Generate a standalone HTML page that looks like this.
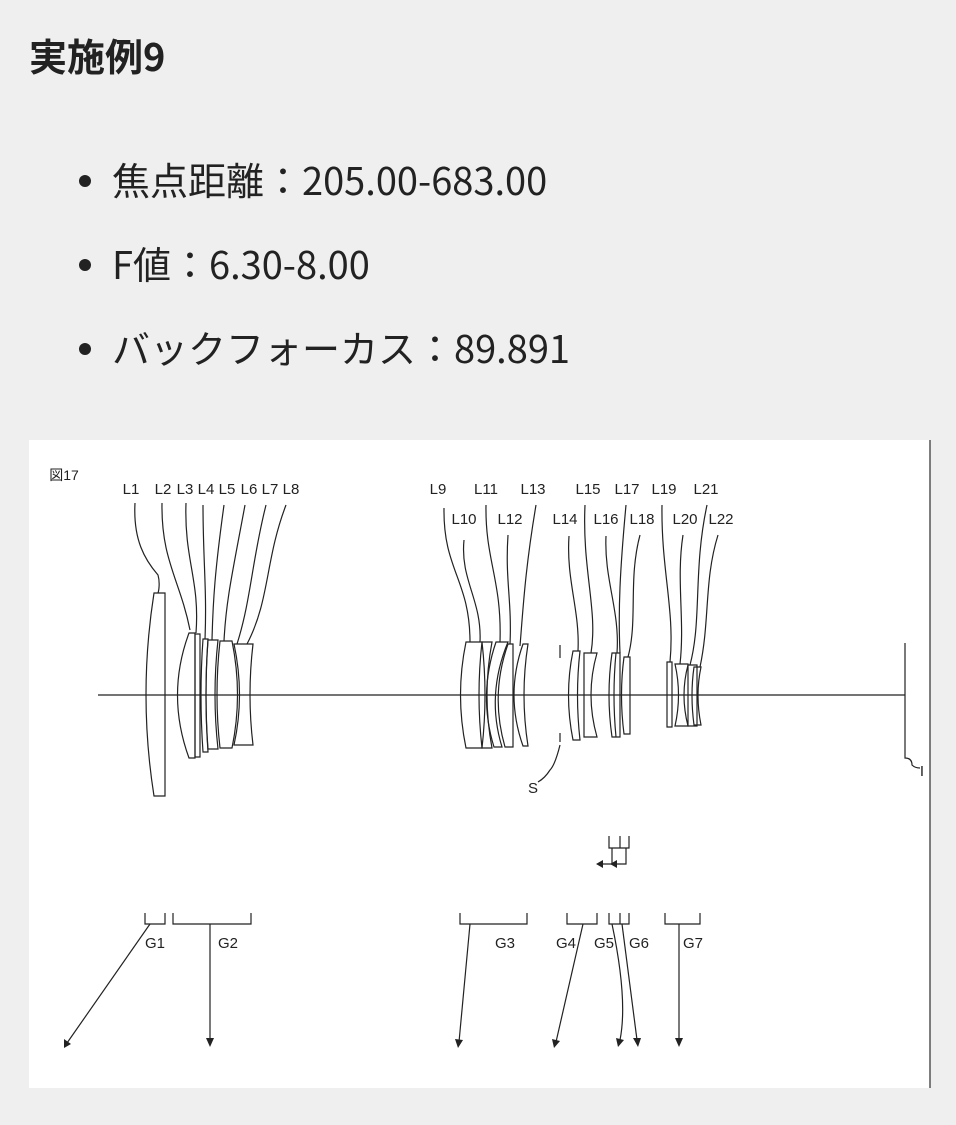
<!DOCTYPE html>
<html><head><meta charset="utf-8"><style>
body{margin:0;width:956px;height:1125px;background:#efefef;font-family:"Liberation Sans","Noto Sans CJK JP",sans-serif;color:#222;position:relative;overflow:hidden}
h1{position:absolute;left:29px;top:30px;margin:0;font-size:38px;line-height:50px;font-weight:bold;font-family:"Noto Sans CJK JP",sans-serif}
.b{position:absolute;left:112px;font-size:38px;line-height:50px;font-family:"Noto Sans CJK JP",sans-serif;white-space:nowrap}
.d{position:absolute;left:79px;width:12px;height:12px;border-radius:50%;background:#222}
svg{position:absolute;left:0;top:0}
</style></head><body>
<h1>実施例9</h1>
<div class="d" style="top:175px"></div><div class="b" style="top:154px">焦点距離：205.00-683.00</div>
<div class="d" style="top:259px"></div><div class="b" style="top:238px">F値：6.30-8.00</div>
<div class="d" style="top:343px"></div><div class="b" style="top:322px">バックフォーカス：89.891</div>
<svg width="956" height="1125" viewBox="0 0 956 1125">
<rect x="29" y="440" width="901" height="648" fill="#fff"/>
<line x1="930" y1="440" x2="930" y2="1088" stroke="#555" stroke-width="1.5"/>
<g font-family="Liberation Sans, Noto Sans CJK JP, sans-serif" font-size="15" fill="#222" text-anchor="middle">
<text x="64" y="480" font-size="14">図17</text>
<text x="131" y="494">L1</text><text x="163" y="494">L2</text><text x="185" y="494">L3</text><text x="206" y="494">L4</text><text x="227" y="494">L5</text><text x="249" y="494">L6</text><text x="270" y="494">L7</text><text x="291" y="494">L8</text>
<text x="438" y="494">L9</text><text x="486" y="494">L11</text><text x="533" y="494">L13</text><text x="588" y="494">L15</text><text x="627" y="494">L17</text><text x="664" y="494">L19</text><text x="706" y="494">L21</text>
<text x="464" y="524">L10</text><text x="510" y="524">L12</text><text x="565" y="524">L14</text><text x="606" y="524">L16</text><text x="642" y="524">L18</text><text x="685" y="524">L20</text><text x="721" y="524">L22</text>
<text x="533" y="793">S</text><text x="922" y="776">I</text>
<text x="155" y="948">G1</text><text x="228" y="948">G2</text><text x="505" y="948">G3</text><text x="566" y="948">G4</text><text x="604" y="948">G5</text><text x="639" y="948">G6</text><text x="693" y="948">G7</text>
</g>
<g fill="none" stroke="#222" stroke-width="1.2">
<line x1="98" y1="695" x2="905" y2="695"/>
<line x1="905" y1="643" x2="905" y2="748"/>
<path d="M905,748 L905,758 Q912,758 912,765 Q915,768 920,768"/>
<line x1="560" y1="645" x2="560" y2="658"/><line x1="560" y1="733" x2="560" y2="742"/>
<path d="M560,745 Q555,765 550,770 Q545,778 538,782"/>
<path d="M154,593 L165,593 L165,796 L154,796 Q138,695 154,593Z"/>
<path d="M189,633 L195,633 L195,758 L189,758 Q166,695 189,633Z"/>
<path d="M195,634 L200,634 L200,757 L195,757Z"/>
<path d="M203,639 L208,639 Q204,695 208,752 L203,752 Q199,695 203,639Z"/>
<path d="M208,640 L218,640 Q212,695 218,749 L208,749 Q204,695 208,640Z"/>
<path d="M220,641 L232,641 Q243,695 232,748 L220,748 Q214,695 220,641Z"/>
<path d="M234,644 L253,644 Q247,695 253,745 L234,745 Q245,695 234,644Z"/>
<path d="M466,642 L482,642 Q476,695 482,748 L466,748 Q455,695 466,642Z"/>
<path d="M482,642 L492,642 Q482,695 492,748 L482,748 Q488,695 482,642Z"/>
<path d="M496,642 L508,642 Q486,695 502,747 L494,747 Q478,695 496,642Z"/>
<path d="M508,644 L513,644 L513,747 L505,747 Q490,695 508,644Z"/>
<path d="M523,644 L528,644 Q520,695 528,746 L523,746 Q505,695 523,644Z"/>
<path d="M573,651 L580,651 Q575,695 580,740 L573,740 Q564,695 573,651Z"/>
<path d="M584,653 L597,653 Q585,695 597,737 L584,737Z"/>
<path d="M612,653 L620,653 L620,737 L612,737 Q606,695 612,653Z"/>
<path d="M616,653 Q612,695 616,737"/>
<path d="M624,657 L630,657 L630,734 L624,734 Q619,695 624,657Z"/>
<path d="M667,662 L672,662 L672,727 L667,727Z"/>
<path d="M675,664 L688,664 L688,726 L675,726 Q682,695 675,664Z"/>
<path d="M688,665 L697,665 L697,726 L688,726 Q680,695 688,665Z"/>
<path d="M694,667 L701,667 Q695,695 701,725 L694,725 Q690,695 694,667Z"/>
<path d="M135,503 C133,540 145,560 158,575 C160,582 159,590 158,593"/>
<path d="M162,503 C161,560 180,580 190,630"/>
<path d="M186,503 C184,560 200,580 196,633"/>
<path d="M203,505 C203,560 207,590 205,639"/>
<path d="M224,505 C215,570 213,600 212,640"/>
<path d="M245,505 C233,570 226,600 224,641"/>
<path d="M266,505 C252,560 251,600 237,644"/>
<path d="M286,505 C265,560 270,600 247,644"/>
<path d="M444,508 C443,570 470,580 470,642"/>
<path d="M464,540 C460,580 482,600 480,642"/>
<path d="M486,505 C485,560 502,580 500,642"/>
<path d="M508,535 C505,580 512,600 510,644"/>
<path d="M536,505 C525,570 523,610 520,646"/>
<path d="M569,536 C566,580 580,610 578,651"/>
<path d="M585,505 C582,570 598,610 591,653"/>
<path d="M606,536 C604,580 620,610 617,653"/>
<path d="M626,505 C620,570 618,610 620,653"/>
<path d="M640,535 C628,580 638,620 628,657"/>
<path d="M662,505 C661,570 675,610 670,662"/>
<path d="M683,535 C676,580 685,620 680,664"/>
<path d="M707,505 C693,570 702,620 690,665"/>
<path d="M718,535 C704,580 710,620 700,667"/>
<path d="M145,913 V924 H165 V913"/><path d="M173,913 V924 H251 V913"/>
<path d="M460,913 V924 H527 V913"/><path d="M567,913 V924 H597 V913"/>
<path d="M609,913 V924 H629 V913 M620,913 V924"/><path d="M665,913 V924 H700 V913"/>
<path d="M609,836 V848 H629 V836 M620,836 V848"/>
<path d="M612,848 V864 H601 M626,848 V864 H615"/>
<line x1="150" y1="924" x2="67" y2="1043"/>
<line x1="210" y1="924" x2="210" y2="1040"/>
<line x1="470" y1="924" x2="459" y2="1042"/>
<line x1="583" y1="924" x2="556" y2="1042"/>
<path d="M612,924 Q628,1000 620,1040"/>
<line x1="622" y1="924" x2="637" y2="1040"/>
<line x1="679" y1="924" x2="679" y2="1040"/>
</g>
<g fill="#222">
<path d="M596,864 L603,860 L603,868Z"/><path d="M610,864 L617,860 L617,868Z"/>
<path d="M64,1048 L64,1039 L71,1044Z"/>
<path d="M206,1038 L214,1038 L210,1047Z"/>
<path d="M455,1039 L463,1040 L458,1048Z"/>
<path d="M552,1039 L560,1041 L554,1048Z"/>
<path d="M616,1038 L624,1040 L618,1047Z"/>
<path d="M633,1038 L641,1038 L638,1047Z"/>
<path d="M675,1038 L683,1038 L679,1047Z"/>
</g>
</svg>
</body></html>
